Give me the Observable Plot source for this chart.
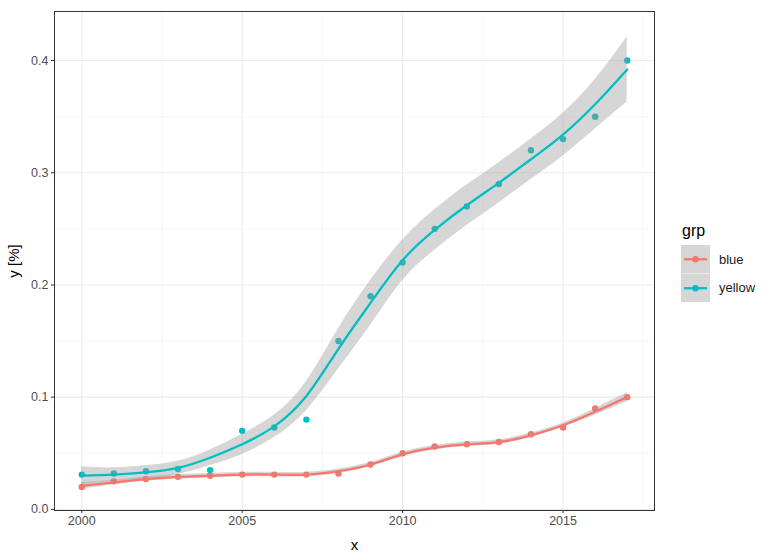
<!DOCTYPE html>
<html>
<head>
<meta charset="utf-8">
<script src="https://cdn.jsdelivr.net/npm/d3@7"></script>
<script src="https://cdn.jsdelivr.net/npm/@observablehq/plot@0.6"></script>
<style>
  html, body { margin: 0; padding: 0; background: #fff; }
  #wrap { position: relative; width: 775px; height: 558px; font-family: "Liberation Sans", Arial, sans-serif; }
  #legend { position: absolute; left: 681px; top: 222px; }
  #legend .title { font-size: 16px; line-height: 18px; height: 18px; color: #000; margin: 0 0 5px 1px; }
  #legend .row { display: flex; align-items: center; height: 28.5px; }
  #legend .lab { font-size: 13px; color: #1a1a1a; margin-left: 9px; }
  #legend svg { display: block; }
</style>
</head>
<body>
<div id="wrap">
  <div id="chart"></div>
  <div id="legend"></div>
</div>
<script>
// ---- data ----
const years = [2000, 2001, 2002, 2003, 2004, 2005, 2006, 2007, 2008, 2009, 2010, 2011, 2012, 2013, 2014, 2015, 2016, 2017];
const groups = ["blue", "yellow"];
const groupColors = ["#F8766D", "#00BFC4"];

// observed points
const blueY   = [0.020, 0.025, 0.027, 0.029, 0.030, 0.031, 0.031, 0.031, 0.032, 0.040, 0.050, 0.056, 0.058, 0.060, 0.067, 0.073, 0.090, 0.100];
const yellowY = [0.031, 0.032, 0.034, 0.036, 0.035, 0.070, 0.073, 0.080, 0.150, 0.190, 0.220, 0.250, 0.270, 0.290, 0.320, 0.330, 0.350, 0.400];

// smoothed fit and ribbon half-widths
const blueFit    = [0.021, 0.024, 0.027, 0.029, 0.030, 0.031, 0.031, 0.031, 0.034, 0.040, 0.049, 0.055, 0.058, 0.060, 0.066, 0.075, 0.087, 0.100];
const blueSE     = [0.003, 0.002, 0.002, 0.002, 0.002, 0.002, 0.002, 0.002, 0.002, 0.002, 0.002, 0.002, 0.002, 0.002, 0.002, 0.002, 0.003, 0.004];
const yellowFit  = [0.030, 0.031, 0.033, 0.037, 0.046, 0.058, 0.074, 0.101, 0.143, 0.184, 0.222, 0.249, 0.271, 0.291, 0.312, 0.334, 0.361, 0.392];
const yellowSE   = [0.008, 0.006, 0.006, 0.006, 0.007, 0.009, 0.010, 0.013, 0.018, 0.020, 0.018, 0.018, 0.018, 0.018, 0.018, 0.019, 0.022, 0.029];

// axes
const xTicks = [2000, 2005, 2010, 2015];
const xMinor = [2002.5, 2007.5, 2012.5, 2017.5];
const yTicks = [0.0, 0.1, 0.2, 0.3, 0.4];
const yMinor = [0.05, 0.15, 0.25, 0.35];

// ---- build tables ----
const points = [];
const fits = [];
years.forEach((yr, i) => {
  points.push({x: yr, y: blueY[i], grp: "blue"});
  points.push({x: yr, y: yellowY[i], grp: "yellow"});
  fits.push({x: yr, y: blueFit[i], lo: blueFit[i] - blueSE[i], hi: blueFit[i] + blueSE[i], grp: "blue"});
  fits.push({x: yr, y: yellowFit[i], lo: yellowFit[i] - yellowSE[i], hi: yellowFit[i] + yellowSE[i], grp: "yellow"});
});

const grpColor = {value: "grp", scale: "color"};

const chart = Plot.plot({
  width: 660,
  height: 558,
  marginLeft: 54,
  marginRight: 6,
  marginTop: 11,
  marginBottom: 48,
  style: {fontFamily: "'Liberation Sans', Arial, sans-serif", fontSize: "12px", background: "#fff"},
  x: {domain: [1999.15, 2017.85]},
  y: {domain: [-0.001, 0.4437]},
  color: {type: "ordinal", domain: groups, range: groupColors},
  marks: [
    Plot.ruleX(xMinor, {stroke: "#f4f4f4", strokeWidth: 0.6}),
    Plot.ruleY(yMinor, {stroke: "#f4f4f4", strokeWidth: 0.6}),
    Plot.ruleX(xTicks, {stroke: "#ebebeb", strokeWidth: 1.1}),
    Plot.ruleY(yTicks, {stroke: "#ebebeb", strokeWidth: 1.1}),
    Plot.dot(points, {x: "x", y: "y", fill: grpColor, r: 3.2, stroke: "none"}),
    Plot.areaY(fits, {x: "x", y1: "lo", y2: "hi", z: "grp", fill: "#999999", fillOpacity: 0.4, curve: "natural"}),
    Plot.line(fits, {x: "x", y: "y", z: "grp", stroke: grpColor, strokeWidth: 2.3, curve: "natural"}),
    Plot.frame({stroke: "#333333", strokeWidth: 1}),
    Plot.axisX(xTicks, {tickSize: 3, tickPadding: 3, stroke: "#333333", fill: "#4d4d4d", fontSize: 12.5, tickFormat: d => String(d), label: null}),
    Plot.axisY(yTicks, {tickSize: 3, tickPadding: 3, stroke: "#333333", fill: "#4d4d4d", fontSize: 12.5, tickFormat: d3.format(".1f"), label: null}),
    Plot.text(["x"], {frameAnchor: "bottom", dy: 35, lineAnchor: "middle", fontSize: 15, fill: "#000"}),
    Plot.text(["y [%]"], {frameAnchor: "left", dx: -40, rotate: -90, lineAnchor: "middle", textAnchor: "middle", fontSize: 15, fill: "#000"})
  ]
});
document.getElementById("chart").appendChild(chart);

// ---- legend ----
const legend = d3.select("#legend");
legend.append("div").attr("class", "title").text("grp");
const keys = legend.append("div").style("position", "relative");
groups.forEach((g, i) => {
  const row = keys.append("div").attr("class", "row");
  const svg = row.append("svg").attr("width", 29).attr("height", 28.5);
  svg.append("rect").attr("width", 29).attr("height", 28.5).attr("fill", "#d6d6d6");
  svg.append("line").attr("x1", 3).attr("x2", 26).attr("y1", 14.25).attr("y2", 14.25)
    .attr("stroke", groupColors[i]).attr("stroke-width", 2.3);
  svg.append("circle").attr("cx", 14.5).attr("cy", 14.25).attr("r", 3.2).attr("fill", groupColors[i]);
  row.append("span").attr("class", "lab").text(g);
});
</script>
</body>
</html>
